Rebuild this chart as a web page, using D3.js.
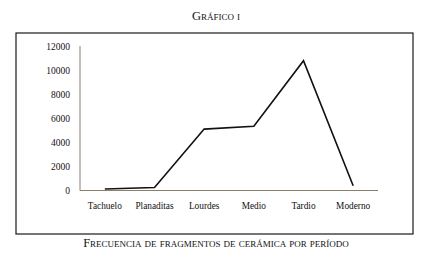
<!DOCTYPE html>
<html>
<head>
<meta charset="UTF-8">
<script src="https://d3js.org/d3.v7.min.js"></script>
<style>
  body { margin: 0; background: #fff; }
  text { font-family: "Liberation Serif", "DejaVu Serif", serif; fill: #111; }
</style>
</head>
<body>
<div id="chart"></div>
<script>
// periods and fragment counts
var periods = ["Tachuelo", "Planaditas", "Lourdes", "Medio", "Tardio", "Moderno"];
var counts = [120, 250, 5100, 5330, 10780, 400];
var yTicks = [0, 2000, 4000, 6000, 8000, 10000, 12000];

var W = 431, H = 262;
var svg = d3.select("#chart").append("svg")
  .attr("width", W).attr("height", H);

// title
svg.append("text")
  .attr("x", 216).attr("y", 20)
  .attr("text-anchor", "middle")
  .style("font-variant", "small-caps")
  .style("font-size", "12.5px")
  .text("Gráfico i");

// frame
svg.append("rect")
  .attr("x", 16).attr("y", 33)
  .attr("width", 397).attr("height", 201)
  .attr("fill", "none")
  .attr("stroke", "#1a1a1a")
  .attr("stroke-width", 1.2);

var x = d3.scaleBand().domain(periods).range([80, 378]);
var y = d3.scaleLinear().domain([0, 12000]).range([190.5, 46]);

// y axis line + labels
svg.append("line")
  .attr("x1", 80).attr("x2", 80)
  .attr("y1", y(12000)).attr("y2", y(0))
  .attr("stroke", "#8a7f6e");
svg.append("g").selectAll("text")
  .data(yTicks).enter().append("text")
  .attr("x", 70)
  .attr("y", function(d) { return y(d) + 3.5; })
  .attr("text-anchor", "end")
  .style("font-size", "9.5px")
  .text(function(d) { return d; });

// x axis
svg.append("line")
  .attr("x1", 80).attr("x2", 378)
  .attr("y1", y(0)).attr("y2", y(0))
  .attr("stroke", "#8a7f6e");
svg.append("g").selectAll("text")
  .data(periods).enter().append("text")
  .attr("x", function(d) { return x(d) + x.bandwidth() / 2; })
  .attr("y", 209)
  .attr("text-anchor", "middle")
  .style("font-size", "9.3px")
  .text(function(d) { return d; });

// line
var line = d3.line()
  .x(function(d, i) { return x(periods[i]) + x.bandwidth() / 2; })
  .y(function(d) { return y(d); });
svg.append("path")
  .datum(counts)
  .attr("d", line)
  .attr("fill", "none")
  .attr("stroke", "#111")
  .attr("stroke-width", 1.6);

// caption
svg.append("text")
  .attr("x", 216).attr("y", 247)
  .attr("text-anchor", "middle")
  .style("font-variant", "small-caps")
  .style("font-size", "12.3px")
  .text("Frecuencia de fragmentos de cerámica por período");
</script>
</body>
</html>
